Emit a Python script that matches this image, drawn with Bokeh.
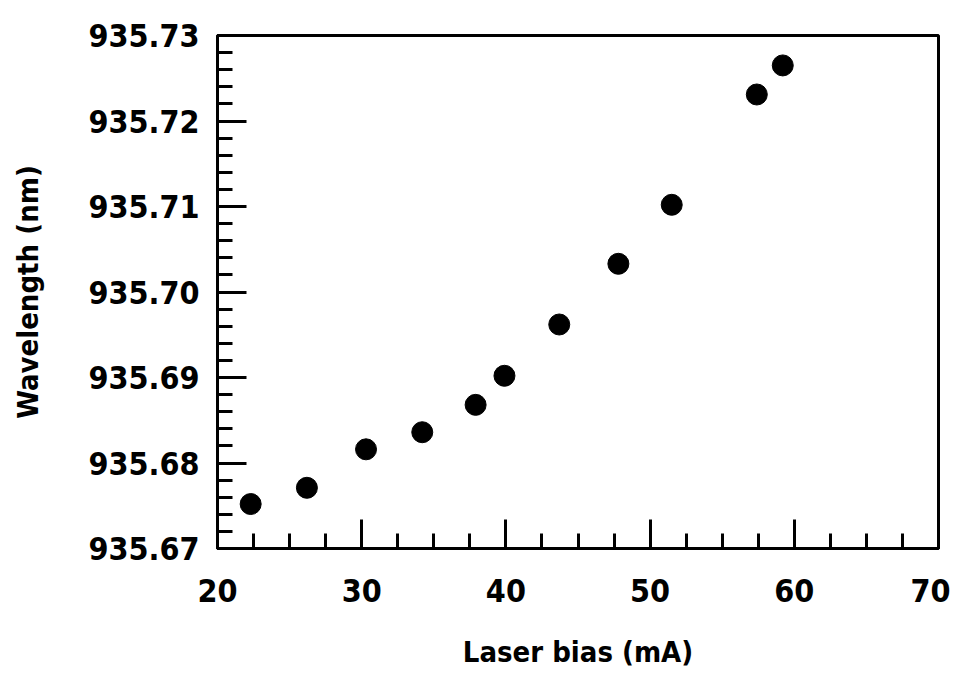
from bokeh.plotting import figure
from bokeh.models import FixedTicker, PrintfTickFormatter, Range1d
from bokeh.embed import file_html
from bokeh.resources import INLINE

# Data
laser_bias_mA = [22.3, 26.2, 30.3, 34.2, 37.9, 39.9, 43.7, 47.8, 51.5, 57.4, 59.2]
wavelength_nm = [935.6752, 935.6771, 935.6816, 935.6836, 935.6868, 935.6902,
                 935.6962, 935.7033, 935.7102, 935.7231, 935.7265]

x_major_ticks = [20, 30, 40, 50, 60, 70]
x_minor_ticks = [20 + 2.5 * i for i in range(21)]
y_major_ticks = [935.67, 935.68, 935.69, 935.70, 935.71, 935.72, 935.73]
y_minor_ticks = [935.67 + 0.002 * i for i in range(31)]

FONT = "DejaVu Sans Condensed"

p = figure(width=950, height=672, output_backend="svg", toolbar_location=None,
           x_range=Range1d(20, 70), y_range=Range1d(935.67, 935.73),
           min_border_left=217, min_border_right=12, min_border_top=35,
           min_border_bottom=124)

p.grid.visible = False
p.outline_line_color = "black"
p.outline_line_width = 3
p.background_fill_color = "white"
p.border_fill_color = "white"

p.scatter(laser_bias_mA, wavelength_nm, size=21, color="black")

xa = p.xaxis[0]
xa.ticker = FixedTicker(ticks=x_major_ticks, minor_ticks=x_minor_ticks)
xa.axis_label = "Laser bias (mA)"
ya = p.yaxis[0]
ya.ticker = FixedTicker(ticks=y_major_ticks, minor_ticks=y_minor_ticks)
ya.formatter = PrintfTickFormatter(format="%.2f")
ya.axis_label = "Wavelength (nm)"

for ax in (xa, ya):
    ax.axis_line_width = 3
    ax.axis_line_color = "black"
    ax.major_tick_in = 29
    ax.major_tick_out = 0
    ax.minor_tick_in = 15
    ax.minor_tick_out = 0
    ax.major_tick_line_width = 3
    ax.minor_tick_line_width = 3
    ax.major_tick_line_color = "black"
    ax.minor_tick_line_color = "black"
    ax.major_label_text_font = FONT
    ax.major_label_text_font_size = "32px"
    ax.major_label_text_font_style = "bold"
    ax.major_label_text_color = "black"
    ax.axis_label_text_font = FONT
    ax.axis_label_text_font_size = "29px"
    ax.axis_label_text_font_style = "bold"
    ax.axis_label_text_color = "black"

xa.major_label_standoff = 30
xa.axis_label_standoff = 30
ya.major_label_standoff = 18
ya.axis_label_standoff = 40

open("out.html", "w").write(file_html(p, INLINE))
